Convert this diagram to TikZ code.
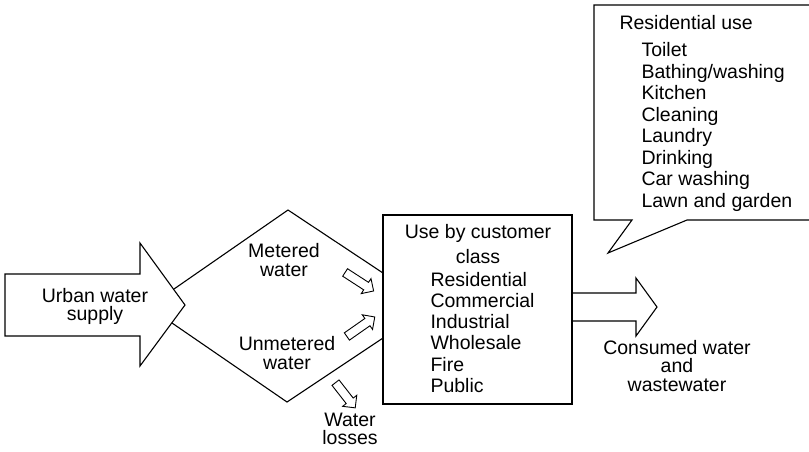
\documentclass[tikz,border=0pt]{standalone}
\usepackage{fontspec}
\setmainfont{Liberation Sans}
\usetikzlibrary{shapes.arrows}
\begin{document}
\begin{tikzpicture}[x=1pt,y=-1pt,line width=1.1pt,font=\fontsize{19.5}{18.5}\selectfont,
	lbl/.style={align=center,inner sep=0pt},
	item/.style={anchor=base west,inner sep=0pt},
	hollow/.style={draw,single arrow,minimum height=34pt,inner xsep=0pt,inner ysep=4pt,single arrow head extend=4.5pt,line width=0.9pt}]
	\useasboundingbox (0,0) rectangle (809,451);
	\draw (5,274) -- (140,274) -- (140,243) -- (185,305) -- (140,366) -- (140,336) -- (5,336) -- cycle;
	\node[lbl] (supply) at (95,306.5) {Urban water\\supply};
	\node[draw,minimum width=189pt,minimum height=189pt,inner sep=0pt] (cust) at (477.5,309.5) {};
	\coordinate (mtop) at (288,210);
	\coordinate (mbot) at (287,402);
	\draw (174,289) -- (mtop) -- (383,273);
	\draw (172,323) -- (mbot) -- (383,338);
	\node[lbl] (metered) at (284,260) {Metered\\water};
	\node[lbl] (unmetered) at (287,353) {Unmetered\\water};
	\node[lbl] (losses) at (350,429) {Water\\losses};
	\node[hollow,rotate=-33] (metarr) at (357.5,280.5) {};
	\node[hollow,rotate=35] (unmarr) at (359,328) {};
	\node[hollow,rotate=-52,minimum height=32pt] (lossarr) at (344,393.5) {};
	\node[lbl,anchor=base] (title) at (478,238) {Use by customer};
	\node[lbl,anchor=base] (class) at (478,263) {class};
	\foreach \t [count=\i from 0] in {Residential,Commercial,Industrial,Wholesale,Fire,Public}
		\node[item] (c\i) at (430,{286+21.3*\i}) {\t};
	\draw (572,293) -- (636,293) -- (636,278) -- (657,307) -- (636,336) -- (636,321) -- (572,321);
	\node[lbl] (consumed) at (677,366) {Consumed water\\and\\wastewater};
	\draw (809,5) -- (594,5) -- (594,220) -- (632,220) -- (608,253) -- (687,220) -- (809,220);
	\node[item] (res) at (619,29) {Residential use};
	\foreach \t [count=\i from 0] in {Toilet,Bathing/washing,Kitchen,Cleaning,Laundry,Drinking,Car washing,Lawn and garden}
		\node[item] (r\i) at (641,{56.7+21.5*\i}) {\t};
\end{tikzpicture}
\end{document}
